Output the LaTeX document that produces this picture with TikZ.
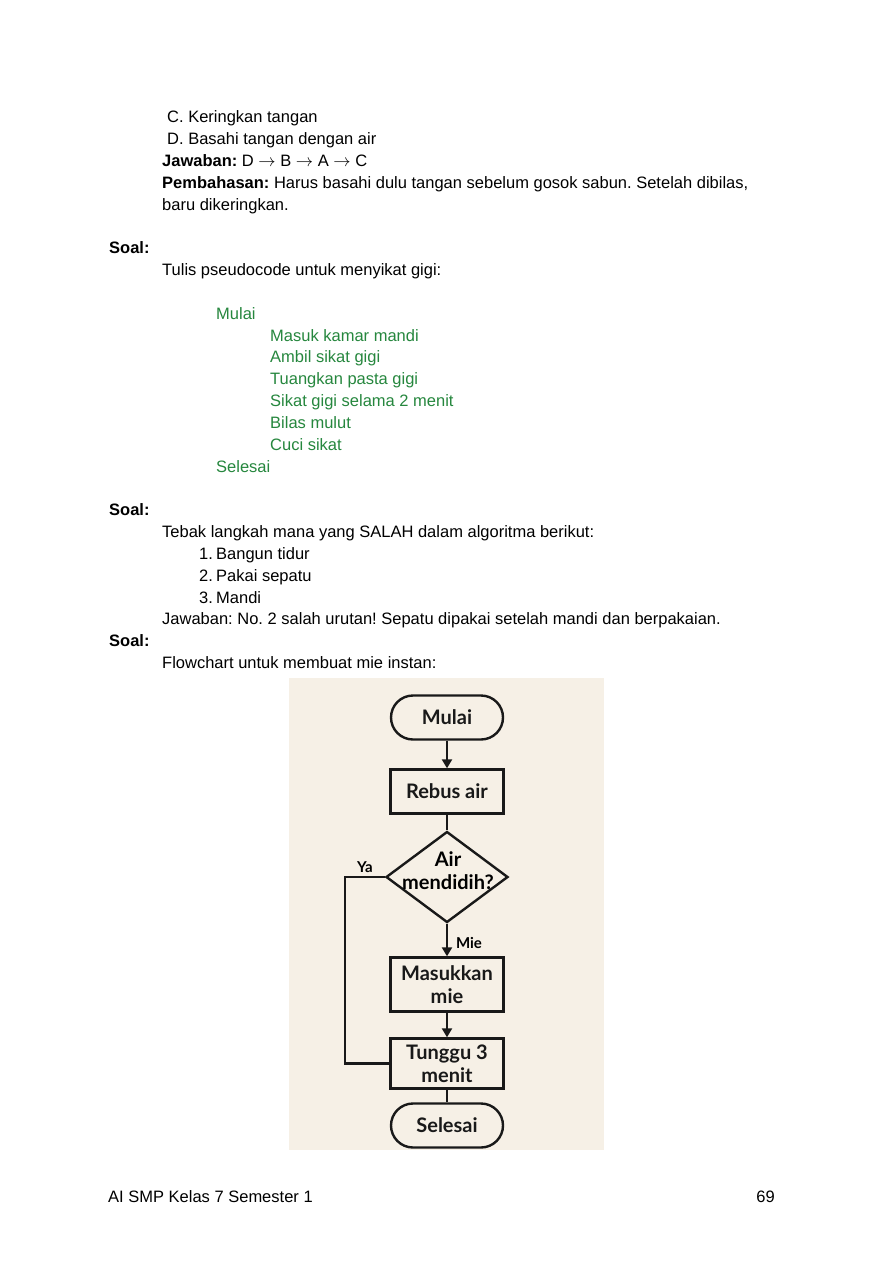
\documentclass[tikz,border=0pt]{standalone}
\usepackage{fontspec}
\setmainfont{Liberation Sans}
\newfontfamily\fcfont{Lato}
\usetikzlibrary{shapes.geometric,arrows.meta}
\definecolor{pgreen}{RGB}{38,135,62}
\definecolor{fcbg}{RGB}{246,240,230}
\frenchspacing
\newcommand{\rarr}{\ensuremath{\rightarrow}}
\tikzset{
  txt/.style={anchor=base west, inner sep=0pt, font=\fontsize{16.5}{22}\selectfont},
  gtxt/.style={txt, text=pgreen},
  fcline/.style={line width=2.4pt, black!90},
  fcarr/.style={fcline, -{Triangle[length=9pt,width=10pt]}},
  fcfnt/.style={font=\fcfont\bfseries\fontsize{20}{23}\selectfont},
  term/.style={draw, fcline, fcfnt, rounded corners=22pt, minimum width=112pt, minimum height=44pt, inner sep=0pt},
  proc/.style={draw, fcline, fcfnt, minimum width=113pt, inner sep=0pt, align=center},
  lbl/.style={inner sep=0pt, font=\fcfont\bfseries\fontsize{15}{17}\selectfont}
}
\begin{document}
\begin{tikzpicture}[x=1pt,y=-1pt]
\useasboundingbox (0,0) rectangle (894,1263);
\fill[white] (0,0) rectangle (894,1263);
% top text
\node[txt] (t1) at (167,122.5) {C. Keringkan tangan};
\node[txt] (t2) at (167,144.5) {D. Basahi tangan dengan air};
\node[txt] (t3) at (162,166.5) {\textbf{Jawaban:} D \rarr{} B \rarr{} A \rarr{} C};
\node[txt] (t4) at (162,188.5) {\textbf{Pembahasan:} Harus basahi dulu tangan sebelum gosok sabun. Setelah dibilas,};
\node[txt] (t5) at (162,210.5) {baru dikeringkan.};
\node[txt] (s1) at (109,253.5) {\textbf{Soal:}};
\node[txt] (t6) at (162,275.5) {Tulis pseudocode untuk menyikat gigi:};
\node[gtxt] (p1) at (216,319.5) {Mulai};
\node[gtxt] (p2) at (270,341.5) {Masuk kamar mandi};
\node[gtxt] (p3) at (270,362.5) {Ambil sikat gigi};
\node[gtxt] (p4) at (270,384.5) {Tuangkan pasta gigi};
\node[gtxt] (p5) at (270,406.5) {Sikat gigi selama 2 menit};
\node[gtxt] (p6) at (270,428.5) {Bilas mulut};
\node[gtxt] (p7) at (270,450.5) {Cuci sikat};
\node[gtxt] (p8) at (216,472.5) {Selesai};
\node[txt] (s2) at (109,515.5) {\textbf{Soal:}};
\node[txt] (t7) at (162,537.5) {Tebak langkah mana yang SALAH dalam algoritma berikut:};
\node[txt] (n1) at (199,559.5) {1.};
\node[txt] (i1) at (216,559.5) {Bangun tidur};
\node[txt] (n2) at (199,581.5) {2.};
\node[txt] (i2) at (216,581.5) {Pakai sepatu};
\node[txt] (n3) at (199,603.5) {3.};
\node[txt] (i3) at (216,603.5) {Mandi};
\node[txt] (t8) at (162,624.5) {Jawaban: No. 2 salah urutan! Sepatu dipakai setelah mandi dan berpakaian.};
\node[txt] (s3) at (109,646.5) {\textbf{Soal:}};
\node[txt] (t9) at (162,668.5) {Flowchart untuk membuat mie instan:};
% flowchart
\fill[fcbg] (289,678) rectangle (604,1150);
\node[term] (start) at (447,717.5) {Mulai};
\node[proc, minimum height=44pt] (rebus) at (447,791.5) {Rebus air};
\node[diamond, draw, fcline, minimum width=122pt, minimum height=91pt, inner sep=0pt] (dec) at (447,877) {};
\node[fcfnt, align=center, inner sep=0pt] (dectxt) at (448,871) {Air\\mendidih?};
\node[proc, minimum height=54pt] (mas) at (447,984.5) {Masukkan\\mie};
\node[proc, minimum height=50pt] (tung) at (447,1063.5) {Tunggu 3\\menit};
\node[term] (end) at (447,1125.5) {Selesai};
\coordinate (yaL) at (345,877);
\draw[fcarr] (start) -- (rebus);
\draw[fcline] (rebus) -- (dec);
\draw[fcarr] (dec) -- (mas);
\draw[fcarr] (mas) -- (tung);
\draw[fcline] (tung) -- (end);
\draw[fcline] (dec.west) -- (yaL) |- (tung.west);
\node[lbl] (ya) at (365,867) {Ya};
\node[lbl] (mie) at (469,943) {Mie};
% footer
\node[txt] (f1) at (108,1202.5) {AI SMP Kelas 7 Semester 1};
\node[txt, anchor=base east] (f2) at (775,1202.5) {69};
\end{tikzpicture}
\end{document}
